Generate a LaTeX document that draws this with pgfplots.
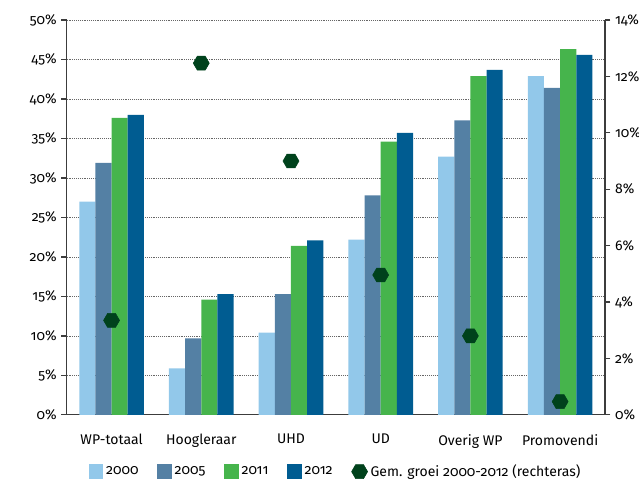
\documentclass[border=0pt]{standalone}
\usepackage{pgfplots}
\pgfplotsset{compat=1.18}
\usepackage{fontspec}
\setmainfont[RawFeature=+onum]{Fira Sans}

\definecolor{cA}{RGB}{146,200,234}
\definecolor{cB}{RGB}{84,128,164}
\definecolor{cC}{RGB}{70,180,76}
\definecolor{cD}{RGB}{0,92,145}
\definecolor{cM}{RGB}{0,66,28}
\definecolor{axgray}{RGB}{60,60,60}

% hexagon with pointy left/right sides
\pgfdeclareplotmark{hexagon}{%
  \pgfpathmoveto{\pgfpointpolar{0}{\pgfplotmarksize}}%
  \pgfpathlineto{\pgfpointpolar{60}{\pgfplotmarksize}}%
  \pgfpathlineto{\pgfpointpolar{120}{\pgfplotmarksize}}%
  \pgfpathlineto{\pgfpointpolar{180}{\pgfplotmarksize}}%
  \pgfpathlineto{\pgfpointpolar{240}{\pgfplotmarksize}}%
  \pgfpathlineto{\pgfpointpolar{300}{\pgfplotmarksize}}%
  \pgfpathclose\pgfusepathqfillstroke}

\pgfplotsset{
  mybar/.style={fill=#1, draw=none,
    legend image code/.code={\path[fill=#1] (0cm,-0.19cm) rectangle (0.39cm,0.2cm);}},
  common/.style={
    width=403.5pt, height=296pt, scale only axis,
    xmin=-0.5, xmax=5.5,
    /pgf/number format/assume math mode=true,
    tick label style={font=\fontsize{10.5}{12}\selectfont},
    axis line style={axgray, line width=0.9pt},
    tick style={axgray, line width=0.9pt},
    tick align=outside,
    major tick length=4pt,
  },
}

\begin{document}
\begin{tikzpicture}
\begin{axis}[common, name=ax,
    ybar=0pt, bar width=0.18,
    ymin=0, ymax=50, ytick={0,5,...,50},
    yticklabel={\pgfmathprintnumber{\tick}\%},
    axis x line*=bottom, axis y line*=left,
    xtick={0,...,5},
    xticklabels={WP-totaal,Hoogleraar,UHD,UD,Overig WP,Promovendi},
    x tick style={draw=none},
    minor xtick={-0.5,0.5,...,5.5},
    minor x tick style={axgray, line width=0.9pt},
    minor tick length=5pt,
    xticklabel style={yshift=-7pt},
    ymajorgrids, grid style={densely dotted, gray!80!black, line width=0.6pt},
    legend style={at={(0.5,-0.112)}, anchor=north, draw=none,
      legend columns=5, font=\fontsize{10.5}{12}\selectfont,
      /tikz/every even column/.append style={column sep=12pt}},
    legend cell align=left,
]
\addplot[mybar=cA] coordinates {(0,27.0) (1,5.9) (2,10.4) (3,22.2) (4,32.7) (5,42.9)};
\addplot[mybar=cB] coordinates {(0,31.9) (1,9.7) (2,15.3) (3,27.8) (4,37.3) (5,41.4)};
\addplot[mybar=cC] coordinates {(0,37.6) (1,14.6) (2,21.4) (3,34.6) (4,42.9) (5,46.3)};
\addplot[mybar=cD] coordinates {(0,38.0) (1,15.3) (2,22.1) (3,35.7) (4,43.7) (5,45.6)};
\addlegendimage{legend image code/.code={%
  \fill[cM] (0.2cm,0cm) +(0:6pt) -- +(60:6pt) -- +(120:6pt) -- +(180:6pt) -- +(240:6pt) -- +(300:6pt) -- cycle;}}
\legend{2000,2005,2011,2012,Gem. groei 2000-2012 (rechteras)}
\end{axis}

\begin{axis}[common,
    ymin=0, ymax=14, ytick={0,2,...,14},
    yticklabel={\pgfmathprintnumber{\tick}\%},
    axis y line*=right, axis x line=none,
]
\addplot[only marks, mark=hexagon, mark size=6pt, color=cM] coordinates {
  (0,3.35) (1,12.47) (2,9.0) (3,4.96) (4,2.8) (5,0.47)};
\end{axis}
\pgfresetboundingbox
\path[use as bounding box] ([xshift=-50pt,yshift=-54pt]ax.south west)
  rectangle ([xshift=25.5pt,yshift=15pt]ax.north east);
\end{tikzpicture}
\end{document}
